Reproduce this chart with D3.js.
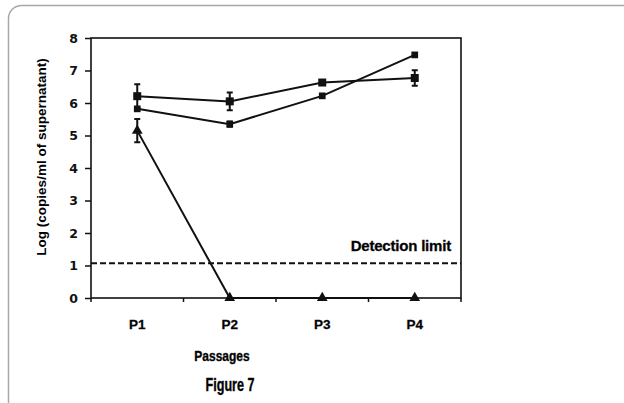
<!DOCTYPE html>
<html>
<head>
<meta charset="utf-8">
<script src="https://cdn.jsdelivr.net/npm/d3@7"></script>
<style>
  body { margin: 0; background: #fff; }
  svg { display: block; }
</style>
</head>
<body>
<script>
window.onload = main;

// data
const passages = ["P1", "P2", "P3", "P4"];
const seriesA = [6.21, 6.05, 6.63, 6.77];      // squares, with error bars
const seriesAErr = [0.37, 0.27, 0, 0.24];
const seriesB = [5.82, 5.35, 6.22, 7.48];      // small squares
const seriesBErr = [0, 0.08, 0, 0];
const seriesC = [5.15, 0, 0, 0];               // triangles
const seriesCErr = [0.36, 0, 0, 0];
const yTicks = [0, 1, 2, 3, 4, 5, 6, 7, 8];
const detectionLimit = 1.07;

const svgWidth = 624;
const svgHeight = 403;
const margin = {top: 38, right: 163, bottom: 105, left: 91};
const chartWidth = svgWidth - margin.left - margin.right;
const chartHeight = svgHeight - margin.top - margin.bottom;

function main() {
    const svg = d3.select("body").append("svg")
        .attr("width", svgWidth)
        .attr("height", svgHeight);

    // rounded page frame
    svg.append("rect")
        .attr("x", 8.5).attr("y", 5.5)
        .attr("width", 700).attr("height", 500)
        .attr("rx", 13)
        .attr("fill", "none")
        .attr("stroke", "#a8a8a8")
        .attr("stroke-width", 1.5);

    const g = svg.append("g")
        .attr("transform", `translate(${margin.left}, ${margin.top})`);

    const scaleX = d3.scaleBand()
        .domain(passages)
        .range([0, chartWidth]);

    const scaleY = d3.scaleLinear()
        .domain([0, 8])
        .range([chartHeight, 0]);

    const cx = (d, i) => scaleX(passages[i]) + scaleX.bandwidth() / 2;

    // frame
    g.append("rect")
        .attr("width", chartWidth).attr("height", chartHeight)
        .attr("fill", "none").attr("stroke", "#111").attr("stroke-width", 1.6);

    // x axis
    const xBounds = passages.map(p => scaleX(p)).concat([chartWidth]);
    g.append("g")
        .selectAll("line")
        .data(xBounds)
        .join("line")
        .attr("x1", d => d).attr("x2", d => d)
        .attr("y1", chartHeight).attr("y2", chartHeight + 4)
        .attr("stroke", "#111").attr("stroke-width", 1.5);

    g.append("g")
        .selectAll("text")
        .data(passages)
        .join("text")
        .attr("x", d => scaleX(d) + scaleX.bandwidth() / 2)
        .attr("y", chartHeight + 31)
        .attr("text-anchor", "middle")
        .style("font", "bold 13.5px 'Liberation Sans', Arial, sans-serif")
        .style("stroke", "#111").style("stroke-width", 0.3)
        .text(d => d);

    // y axis
    g.append("g")
        .call(d3.axisLeft(scaleY).tickValues(yTicks).tickSize(6).tickPadding(7).tickFormat(d3.format("d")))
        .call(a => a.select(".domain").remove())
        .call(a => a.selectAll("line").attr("stroke", "#111").attr("stroke-width", 1.5))
        .call(a => a.selectAll("text")
            .style("font", "bold 12.5px 'DejaVu Sans', sans-serif")
            .attr("fill", "#111"));

    // axis titles
    svg.append("text")
        .attr("transform", `translate(46, ${margin.top + 119}) rotate(-90)`)
        .attr("text-anchor", "middle")
        .style("font", "bold 13.5px 'Liberation Sans', Arial, sans-serif")
        .text("Log (copies/ml of supernatant)");

    svg.append("text")
        .attr("transform", "translate(222, 361) scale(0.8, 1)")
        .attr("text-anchor", "middle")
        .style("font", "bold 15px 'Liberation Sans', sans-serif")
        .style("stroke", "#111").style("stroke-width", 0.4)
        .text("Passages");

    svg.append("text")
        .attr("transform", "translate(230, 391) scale(0.72, 1)")
        .attr("text-anchor", "middle")
        .style("font", "bold 17.5px 'Liberation Sans', sans-serif")
        .style("stroke", "#111").style("stroke-width", 0.4)
        .text("Figure 7");

    // detection limit
    g.append("line")
        .attr("x1", 0).attr("x2", chartWidth)
        .attr("y1", scaleY(detectionLimit)).attr("y2", scaleY(detectionLimit))
        .attr("stroke", "#111").attr("stroke-width", 1.8)
        .attr("stroke-dasharray", "6,3");

    g.append("text")
        .attr("x", chartWidth - 10)
        .attr("y", scaleY(detectionLimit) - 12)
        .attr("text-anchor", "end")
        .style("font", "bold 15px 'Liberation Sans', Arial, sans-serif")
        .style("letter-spacing", "-0.2px")
        .style("stroke", "#111").style("stroke-width", 0.3)
        .text("Detection limit");

    const line = d3.line()
        .x(cx)
        .y(d => scaleY(d));

    const drawSeries = (values, errs, symbol, size) => {
        const s = g.append("g");
        s.append("path")
            .datum(values)
            .attr("d", line)
            .attr("fill", "none")
            .attr("stroke", "#111")
            .attr("stroke-width", 2);

        const withErr = values.map((v, i) => ({v, e: errs[i], i})).filter(d => d.e > 0);
        s.selectAll(".err")
            .data(withErr)
            .join("path")
            .attr("d", d => {
                const x = cx(null, d.i);
                const y1 = scaleY(d.v + d.e), y2 = scaleY(d.v - d.e);
                return `M${x},${y1}V${y2}M${x - 3},${y1}H${x + 3}M${x - 3},${y2}H${x + 3}`;
            })
            .attr("fill", "none")
            .attr("stroke", "#111")
            .attr("stroke-width", 2);

        s.selectAll(".pt")
            .data(values)
            .join("path")
            .attr("transform", (d, i) => `translate(${cx(d, i)}, ${scaleY(d)})`)
            .attr("d", d3.symbol().type(symbol).size(size))
            .attr("fill", "#111");
    };

    drawSeries(seriesB, seriesBErr, d3.symbolSquare, 45);
    drawSeries(seriesA, seriesAErr, d3.symbolSquare, 64);
    drawSeries(seriesC, seriesCErr, d3.symbolTriangle, 50);
}
</script>
</body>
</html>
